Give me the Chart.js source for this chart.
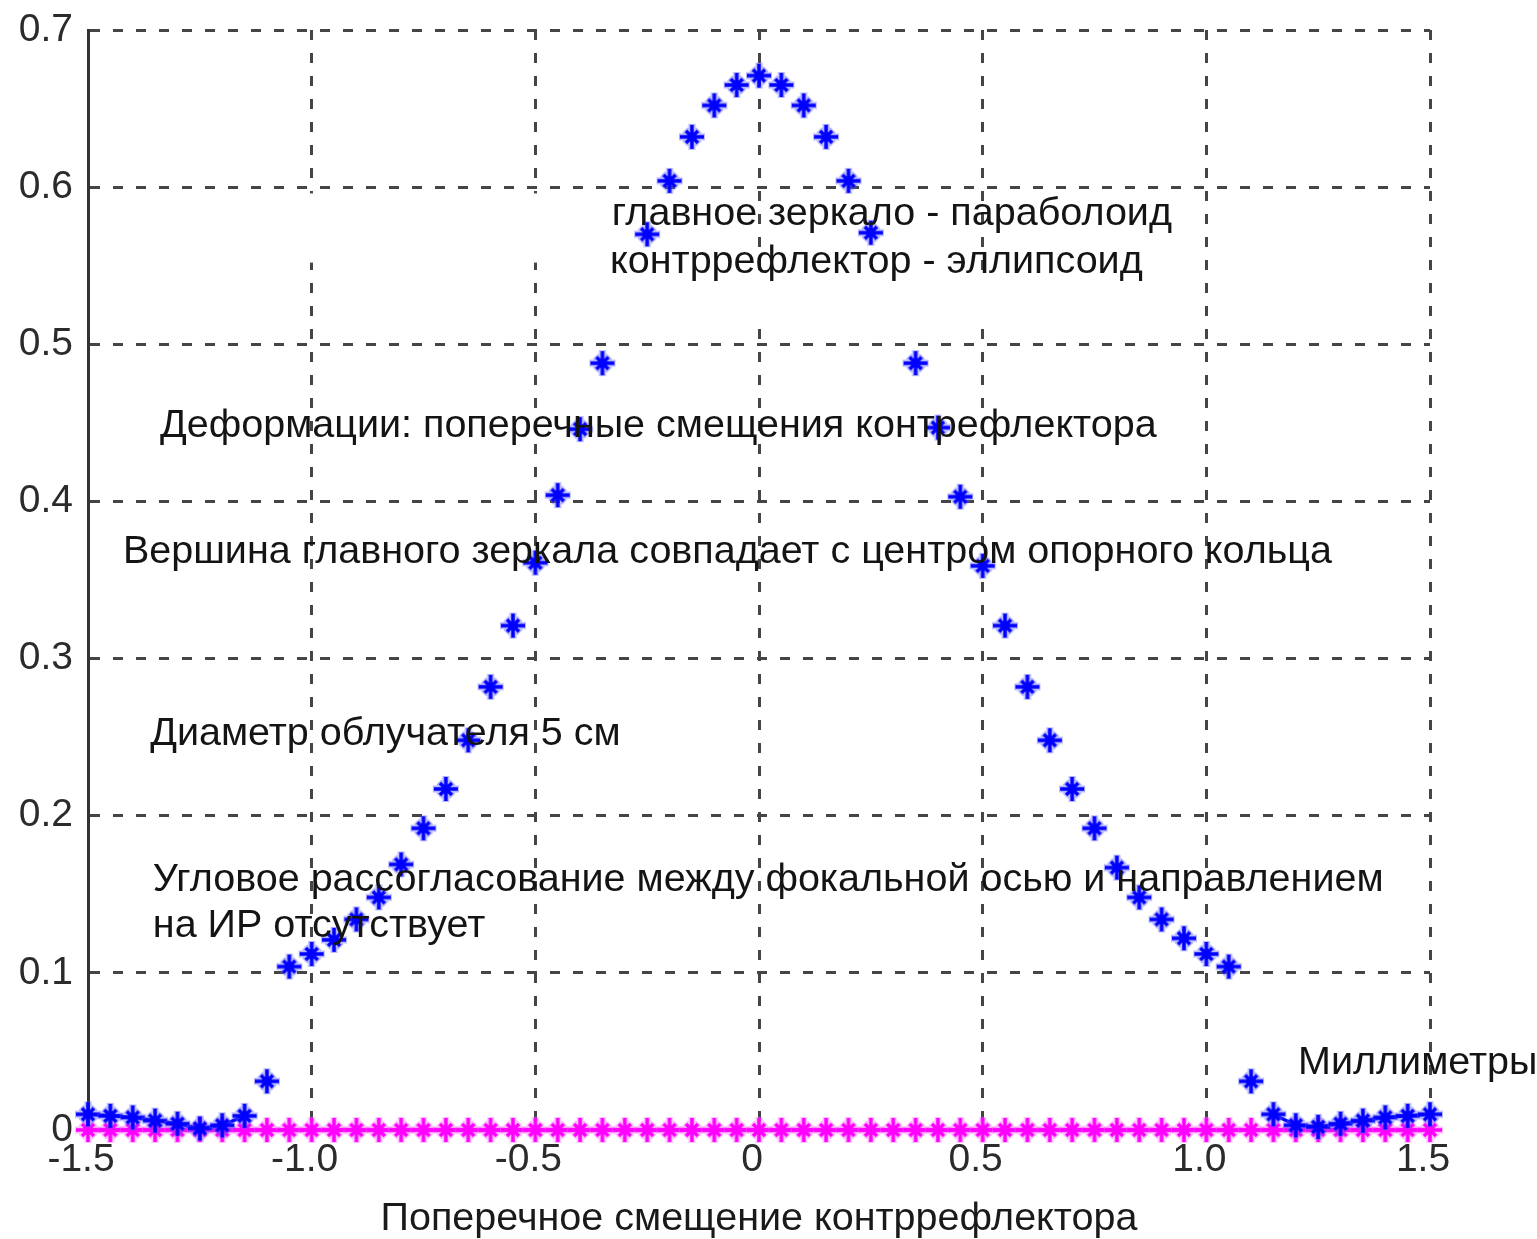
<!DOCTYPE html>
<html>
<head>
<meta charset="utf-8">
<script src="https://cdn.jsdelivr.net/npm/chart.js@4.4.1/dist/chart.umd.min.js"></script>
<style>
  html, body { margin: 0; padding: 0; background: #fff; }
  canvas { display: block; }
</style>
</head>
<body>
<canvas id="c" width="1537" height="1239"></canvas>
<script>
// Поперечное смещение контррефлектора, мм (шаг 0.05)
const OFFSET_MM = [
  -1.5, -1.45, -1.4, -1.35, -1.3, -1.25, -1.2, -1.15, -1.1, -1.05,
  -1.0, -0.95, -0.9, -0.85, -0.8, -0.75, -0.7, -0.65, -0.6, -0.55,
  -0.5, -0.45, -0.4, -0.35, -0.3, -0.25, -0.2, -0.15, -0.1, -0.05,
  0,
  0.05, 0.1, 0.15, 0.2, 0.25, 0.3, 0.35, 0.4, 0.45, 0.5,
  0.55, 0.6, 0.65, 0.7, 0.75, 0.8, 0.85, 0.9, 0.95, 1.0,
  1.05, 1.1, 1.15, 1.2, 1.25, 1.3, 1.35, 1.4, 1.45, 1.5,
];
// синие звёздочки (точки на ±0.3 закрыты фоном подписи, значения оценены)
const BLUE = [
  0.010, 0.009, 0.008, 0.006, 0.004, 0.001, 0.003, 0.009, 0.031, 0.104,
  0.112, 0.121, 0.134, 0.148, 0.169, 0.192, 0.217, 0.248, 0.282, 0.321,
  0.361, 0.404, 0.446, 0.488, 0.530, 0.570, 0.604, 0.632, 0.652, 0.665,
  0.671,
  0.665, 0.652, 0.632, 0.604, 0.571, 0.530, 0.488, 0.447, 0.403, 0.359,
  0.321, 0.282, 0.248, 0.217, 0.192, 0.167, 0.148, 0.134, 0.122, 0.112,
  0.104, 0.031, 0.010, 0.003, 0.002, 0.004, 0.006, 0.008, 0.009, 0.010,
];
// розовая серия лежит на нуле
const PINK = [
  0, 0, 0, 0, 0, 0, 0, 0, 0, 0,
  0, 0, 0, 0, 0, 0, 0, 0, 0, 0,
  0, 0, 0, 0, 0, 0, 0, 0, 0, 0,
  0,
  0, 0, 0, 0, 0, 0, 0, 0, 0, 0,
  0, 0, 0, 0, 0, 0, 0, 0, 0, 0,
  0, 0, 0, 0, 0, 0, 0, 0, 0, 0,
];
const X_TICKS = [-1.5, -1.0, -0.5, 0, 0.5, 1.0, 1.5];
const X_TICK_LABELS = ["-1.5", "-1.0", "-0.5", "0", "0.5", "1.0", "1.5"];
const Y_TICKS = [0, 0.1, 0.2, 0.3, 0.4, 0.5, 0.6, 0.7];
const Y_TICK_LABELS = ["0", "0.1", "0.2", "0.3", "0.4", "0.5", "0.6", "0.7"];

// Подписи на поле графика (координаты - в единицах осей, как text() в MATLAB)
const NOTES = [
  { text: "главное зеркало - параболоид", x: -0.329, y: 0.583 },
  { text: "контррефлектор - эллипсоид", x: -0.333, y: 0.552 },
  { text: "Деформации: поперечные смещения контрефлектора", x: -1.339, y: 0.448 },
  { text: "Вершина главного зеркала совпадает с центром опорного кольца", x: -1.422, y: 0.368 },
  { text: "Диаметр облучателя 5 см", x: -1.361, y: 0.252 },
  { text: "Угловое рассогласование между фокальной осью и направлением", x: -1.355, y: 0.159 },
  { text: "на ИР отсутствует", x: -1.355, y: 0.130 },
  { text: "Миллиметры", x: 1.205, y: 0.0426 },
];
// белые подложки подписей, которые в оригинале перекрывают сетку и точки
const MASK_UNDER = { x0: -1.484, x1: -0.355, y0: 0.596, y1: 0.552 };
const MASK_OVER = { x0: -0.355, x1: 0.785, y0: 0.540, y1: 0.512 };

const FONT = "'Liberation Sans', Arial, sans-serif";
const GRID = { color: "#454545", width: 3, dash: [10, 13] };

// маркер «*» как в MATLAB: длинный крест и короткие диагонали, с лёгким ореолом
function starMarker(color, halo) {
  const c = document.createElement("canvas");
  c.width = c.height = 30;
  const g = c.getContext("2d");
  const arms = (len, diag, w, col) => {
    g.strokeStyle = col; g.lineWidth = w; g.lineCap = "butt";
    g.beginPath();
    g.moveTo(15 - len, 15); g.lineTo(15 + len, 15);
    g.moveTo(15, 15 - len); g.lineTo(15, 15 + len);
    g.moveTo(15 - diag, 15 - diag); g.lineTo(15 + diag, 15 + diag);
    g.moveTo(15 - diag, 15 + diag); g.lineTo(15 + diag, 15 - diag);
    g.stroke();
  };
  arms(13, 7, 7, halo);
  arms(12, 6, 3.5, color);
  g.fillStyle = color;
  g.fillRect(11, 11, 8, 8);
  return c;
}

function fillMask(chart, m) {
  const { ctx, scales: { x, y } } = chart;
  const l = x.getPixelForValue(m.x0), r = x.getPixelForValue(m.x1);
  const t = y.getPixelForValue(m.y0), b = y.getPixelForValue(m.y1);
  ctx.save();
  ctx.fillStyle = "#fff";
  ctx.fillRect(l, t, r - l, b - t);
  ctx.restore();
}

const notesPlugin = {
  id: "notes",
  beforeDatasetsDraw(chart) {
    fillMask(chart, MASK_UNDER);
  },
  afterDatasetsDraw(chart) {
    fillMask(chart, MASK_OVER);
    const { ctx, scales: { x, y } } = chart;
    ctx.save();
    ctx.font = "39.5px " + FONT;
    ctx.fillStyle = "#141414";
    ctx.textAlign = "left";
    ctx.textBaseline = "middle";
    NOTES.forEach(n => ctx.fillText(n.text, x.getPixelForValue(n.x), y.getPixelForValue(n.y)));
    ctx.restore();
  },
};

const points = OFFSET_MM.map((x, i) => ({ x, y: BLUE[i] }));
const zeros = OFFSET_MM.map((x, i) => ({ x, y: PINK[i] }));
// синяя линия соединяет только «хвосты» при |x| >= 1.15
const tail = seg => Math.abs(seg.p0.parsed.x) > 1.149 && Math.abs(seg.p1.parsed.x) > 1.149;

// оси сами не добавляют отступов - поле графика задаётся layout.padding и afterFit
const noPad = s => { s.paddingTop = 0; s.paddingBottom = 0; s.paddingLeft = 0; s.paddingRight = 0; };

new Chart(document.getElementById("c"), {
  type: "scatter",
  data: {
    datasets: [
      {
        data: points, order: 1, clip: false, showLine: true, borderColor: "#0000ff", borderWidth: 3.5,
        segment: { borderColor: s => tail(s) ? "#0000ff" : "rgba(0,0,0,0)" },
        pointStyle: starMarker("#0000ff", "rgba(90,90,255,0.45)"), pointRadius: 13,
      },
      {
        data: zeros, order: 2, clip: false, showLine: true, borderColor: "#ff00ff", borderWidth: 4.5,
        pointStyle: starMarker("#ff00ff", "rgba(255,110,255,0.45)"), pointRadius: 13,
      },
    ],
  },
  options: {
    responsive: false, animation: false, devicePixelRatio: 1,
    layout: { padding: { top: 30, right: 107, left: 0, bottom: 0 } },
    plugins: { legend: { display: false }, tooltip: { enabled: false } },
    scales: {
      x: {
        type: "linear", min: -1.5, max: 1.5,
        afterBuildTicks: s => { s.ticks = X_TICKS.map(value => ({ value })); },
        afterFit: s => { s.height = 109; noPad(s); },
        ticks: {
          callback: (v, i) => X_TICK_LABELS[i], padding: 7, labelOffset: -7,
          color: "#2b2b2b", font: { family: FONT, size: 39 }, maxRotation: 0,
        },
        grid: { color: GRID.color, lineWidth: GRID.width, drawTicks: false },
        border: { display: false, dash: GRID.dash },
        title: {
          display: true, text: "Поперечное смещение контррефлектора", color: "#1a1a1a",
          font: { family: FONT, size: 39.5, lineHeight: 1 }, padding: { top: 0, bottom: 0 },
        },
      },
      y: {
        type: "linear", min: 0, max: 0.7,
        afterBuildTicks: s => { s.ticks = Y_TICKS.map(value => ({ value })); },
        afterFit: s => { s.width = 88; noPad(s); },
        ticks: {
          callback: (v, i) => Y_TICK_LABELS[i], padding: 15,
          color: "#2b2b2b", font: { family: FONT, size: 39 },
        },
        grid: { color: GRID.color, lineWidth: GRID.width, drawTicks: false },
        border: { display: true, color: "#333", width: 3, dash: GRID.dash },
      },
    },
  },
  plugins: [notesPlugin],
});
</script>
</body>
</html>
